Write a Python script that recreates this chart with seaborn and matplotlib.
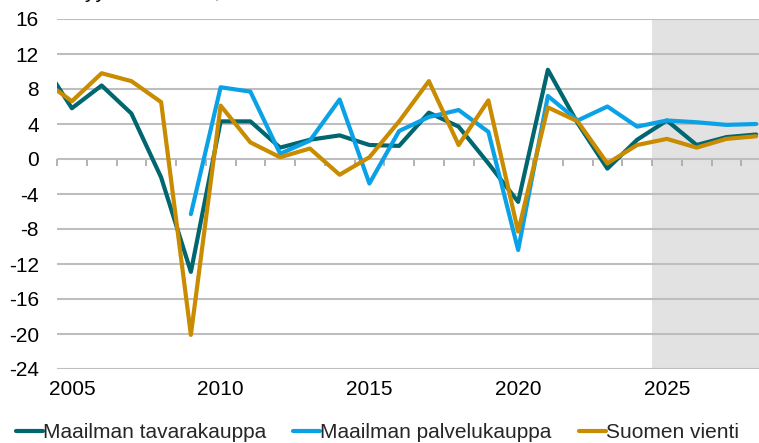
import numpy as np
import pandas as pd
import matplotlib
matplotlib.use("Agg")
import matplotlib.pyplot as plt
import seaborn as sns

# Data (annual volume change, %)
years = list(range(2004, 2029))
goods = [11.1, 5.8, 8.4, 5.2, -2.1, -12.9, 4.3, 4.3, 1.3, 2.2, 2.7, 1.6, 1.5,
         5.3, 3.7, -0.5, -4.9, 10.2, 4.1, -1.1, 2.2, 4.4, 1.6, 2.5, 2.8]
services = [np.nan, np.nan, np.nan, np.nan, np.nan, -6.3, 8.2, 7.7, 0.6, 2.1,
            6.8, -2.8, 3.2, 4.8, 5.6, 3.1, -10.4, 7.2, 4.4, 6.0, 3.7, 4.4,
            4.2, 3.9, 4.0]
finland = [9.1, 6.6, 9.8, 8.9, 6.5, -20.1, 6.1, 1.9, 0.2, 1.2, -1.8, 0.2, 4.3,
           8.9, 1.6, 6.7, -8.3, 5.9, 4.3, -0.5, 1.6, 2.3, 1.3, 2.3, 2.6]

series_names = ["Maailman tavarakauppa", "Maailman palvelukauppa", "Suomen vienti"]
colors = ["#006670", "#0BA1E6", "#C98B00"]
y_ticks = list(range(16, -25, -4))
x_labels = [2005, 2010, 2015, 2020, 2025]
forecast_start = 2024.5

df = pd.DataFrame({
    "Vuosi": years * 3,
    "Muutos": goods + services + finland,
    "Sarja": [series_names[0]] * len(years) + [series_names[1]] * len(years)
             + [series_names[2]] * len(years),
})

sns.set_theme(style="white")
plt.rcParams["font.family"] = ["Liberation Sans", "DejaVu Sans"]
plt.rcParams["font.size"] = 15

fig = plt.figure(figsize=(7.59, 4.43), dpi=100)
ax = fig.add_axes([57 / 759, 74 / 443, 702 / 759, 350 / 443])

x_min, x_max = 2004.5, 2004.5 + 702 / 29.75
y_min, y_max = -24, 16

ax.axvspan(forecast_start, x_max + 1, color="#E2E2E2", lw=0, zorder=0)

sns.lineplot(data=df, x="Vuosi", y="Muutos", hue="Sarja",
             hue_order=series_names, palette=colors, lw=3.0,
             legend=False, ax=ax, zorder=3)

ax.set_xlim(x_min, x_max)
ax.set_ylim(y_min, y_max)
ax.set_yticks(y_ticks)
ax.set_yticklabels([str(v) for v in y_ticks])
ax.set_xticks(x_labels)
ax.set_xticklabels([str(v) for v in x_labels])
ax.tick_params(axis="y", length=0, pad=13, labelsize=15, colors="black")
ax.tick_params(axis="x", length=0, pad=8, labelsize=15, colors="black")
ax.set_xlabel("")
ax.set_ylabel("")

ax.grid(axis="y", color="#BEBEBE", lw=1.5, zorder=1)
ax.grid(axis="x", visible=False)
for s in ax.spines.values():
    s.set_visible(False)

# Zero line with year separators
zero_pos = (0 - y_min) / (y_max - y_min)
sec = ax.secondary_xaxis(zero_pos)
sec.set_xticks(np.arange(2004.5, 2028.5, 1.0))
sec.tick_params(axis="x", direction="in", length=5, width=1.2, color="#A6A6A6",
                labelbottom=False, labeltop=False)
sec.spines["bottom"].set_color("#A6A6A6")
sec.spines["bottom"].set_linewidth(1.5)
for name in ["top", "left", "right"]:
    sec.spines[name].set_visible(False)

# Heading, cut off at the top edge as in the source image
fig.text(56 / 759, 1 + 1.5 / 443, "Volyymin muutos, %", fontsize=15,
         ha="left", va="baseline", color="black")

handles = ax.get_lines()[:3]
fig.legend(handles, series_names, loc="center", ncol=3, frameon=False,
           bbox_to_anchor=(0.497, 0.024), fontsize=15, handlelength=1.3,
           handletextpad=0.0, columnspacing=1.3, borderaxespad=0)

fig.savefig("out.png", dpi=100)
